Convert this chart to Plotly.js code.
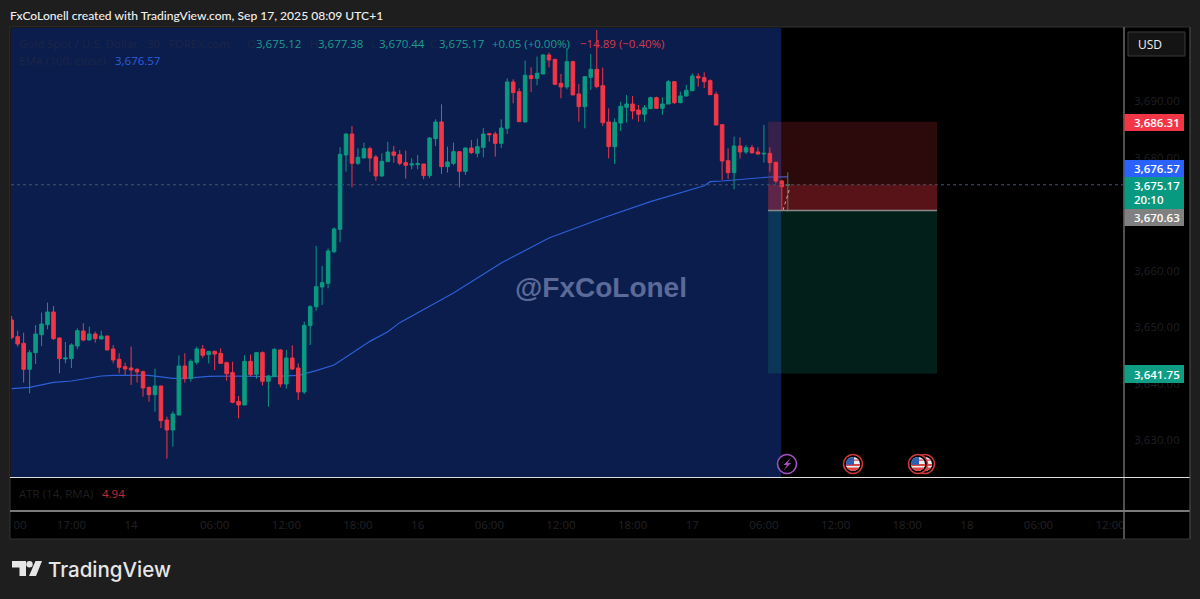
<!DOCTYPE html>
<html><head><meta charset="utf-8">
<script src="https://cdn.plot.ly/plotly-3.0.1.min.js"></script>
<style>html,body{margin:0;padding:0;background:#1e1e1e;overflow:hidden}</style>
</head><body><div id="chart" style="width:1200px;height:599px"></div>
<script>
const open = [3651.24,3648.29,3647.11,3642.51,3645.46,3648.64,3650.41,3652.66,3648.05,3644.34,3644.40,3646.64,3649.29,3647.70,3648.76,3647.88,3648.41,3646.11,3644.28,3642.98,3642.74,3642.51,3642.09,3639.32,3638.02,3639.56,3633.54,3631.77,3634.42,3643.10,3640.86,3643.75,3646.11,3645.10,3645.69,3645.34,3643.69,3641.92,3636.84,3636.19,3643.92,3641.62,3645.46,3640.38,3641.21,3645.93,3639.91,3644.51,3642.74,3638.50,3650.24,3653.60,3657.08,3657.73,3663.33,3667.29,3680.44,3684.16,3678.97,3679.91,3681.57,3680.09,3676.73,3679.26,3680.98,3680.50,3679.09,3678.67,3678.73,3678.85,3676.79,3683.34,3686.29,3678.38,3678.97,3681.03,3677.55,3681.68,3680.74,3681.80,3684.22,3684.16,3682.51,3685.16,3693.37,3691.65,3686.29,3694.49,3694.01,3694.78,3698.14,3697.38,3693.13,3692.48,3696.96,3691.24,3689.00,3694.19,3695.61,3692.72,3686.29,3681.92,3686.11,3688.88,3689.47,3688.41,3687.64,3688.65,3690.59,3688.70,3689.47,3693.42,3689.71,3690.89,3691.83,3694.37,3694.13,3693.60,3691.18,3685.81,3679.44,3677.32,3682.04,3680.98,3681.74,3680.98,3680.62,3680.74,3679.15,3675.84,3675.12];
const high = [3651.95,3649.35,3649.00,3645.93,3650.35,3652.54,3654.31,3653.72,3648.17,3647.35,3647.11,3649.76,3650.65,3650.06,3649.17,3649.35,3648.41,3646.81,3645.34,3643.69,3646.52,3642.68,3642.27,3639.44,3642.63,3639.56,3634.13,3635.07,3644.99,3645.34,3644.28,3646.52,3646.81,3645.75,3645.81,3646.22,3643.86,3643.86,3637.79,3644.99,3645.10,3645.58,3645.69,3641.50,3646.22,3646.05,3645.93,3646.76,3643.57,3650.94,3653.89,3664.34,3660.80,3663.92,3667.64,3681.80,3684.28,3685.58,3681.62,3682.63,3681.92,3680.44,3680.74,3682.80,3682.04,3681.33,3681.21,3679.85,3680.44,3678.85,3683.57,3686.76,3689.41,3681.92,3682.63,3681.03,3681.80,3683.10,3683.34,3685.22,3684.28,3684.57,3686.76,3694.01,3693.84,3692.24,3697.14,3695.96,3697.85,3698.32,3698.56,3697.38,3694.78,3699.32,3697.14,3693.01,3694.43,3698.32,3702.57,3695.90,3688.70,3686.93,3689.88,3691.06,3690.89,3689.29,3689.29,3690.77,3690.77,3690.65,3693.72,3693.54,3691.65,3692.83,3694.90,3694.90,3695.08,3693.84,3691.65,3685.87,3681.62,3683.69,3683.57,3682.21,3682.21,3681.80,3685.75,3681.80,3679.26,3676.02,3677.38];
const low = [3647.82,3646.52,3640.15,3638.26,3643.45,3646.64,3649.59,3647.70,3641.80,3643.57,3642.74,3646.05,3647.46,3647.64,3647.23,3647.82,3645.93,3643.57,3641.80,3641.50,3639.73,3640.15,3637.67,3636.78,3635.01,3632.12,3626.70,3628.82,3634.42,3640.15,3640.32,3643.33,3644.51,3643.57,3642.39,3643.45,3640.50,3636.49,3633.83,3636.19,3641.21,3640.86,3639.68,3635.90,3641.21,3639.32,3639.09,3642.39,3637.08,3638.14,3646.81,3652.89,3653.89,3656.84,3663.04,3664.99,3677.49,3674.72,3678.67,3679.91,3677.49,3675.90,3676.61,3679.26,3679.09,3678.62,3676.26,3677.91,3677.91,3676.14,3676.37,3682.04,3677.08,3677.32,3678.62,3674.72,3676.90,3680.62,3680.03,3680.03,3682.80,3680.15,3681.68,3684.16,3689.59,3686.34,3686.17,3691.60,3692.78,3694.78,3695.96,3692.84,3690.47,3692.07,3691.06,3686.34,3685.16,3691.95,3692.24,3685.58,3679.85,3678.85,3684.69,3686.17,3686.76,3686.34,3686.34,3688.53,3688.70,3687.58,3689.47,3689.47,3689.59,3690.77,3691.71,3692.54,3692.30,3691.06,3685.75,3676.02,3676.20,3674.37,3679.85,3680.62,3680.62,3680.50,3679.09,3677.49,3675.43,3670.71,3670.44];
const close = [3648.17,3646.99,3642.51,3645.46,3648.76,3650.53,3652.66,3647.94,3644.40,3644.51,3646.81,3649.35,3647.70,3648.76,3647.94,3648.41,3645.93,3644.16,3642.86,3642.57,3642.39,3642.04,3639.20,3638.02,3639.56,3633.42,3631.77,3634.60,3643.10,3640.86,3643.92,3646.11,3644.99,3645.69,3645.22,3643.57,3641.74,3636.67,3636.19,3643.92,3641.56,3645.46,3640.38,3641.33,3646.05,3639.91,3644.51,3642.57,3638.50,3650.30,3653.60,3657.14,3657.85,3663.45,3667.35,3680.56,3684.16,3678.97,3680.03,3681.57,3679.91,3676.73,3679.32,3680.98,3680.39,3678.97,3678.62,3678.85,3678.91,3676.79,3683.45,3686.29,3678.38,3679.21,3681.03,3677.55,3681.68,3680.86,3681.92,3684.16,3684.04,3682.51,3685.22,3693.37,3691.48,3686.34,3694.55,3693.96,3694.90,3698.14,3697.26,3692.95,3692.48,3696.96,3691.06,3689.00,3694.31,3695.61,3692.54,3686.17,3681.92,3686.23,3689.06,3689.47,3688.23,3687.64,3688.82,3690.59,3688.70,3689.47,3693.42,3689.71,3690.89,3691.89,3694.43,3694.07,3693.42,3691.12,3685.75,3679.38,3677.32,3682.04,3680.98,3681.74,3680.86,3680.62,3680.74,3679.09,3675.84,3674.84,3675.17];

const emaBars = [0,3,7,10,15,17,23,25,27,29,33,37,43,48,51,54,57,60,63,65,74,82,90,99,107,116,117,119,127,130];
const emaValues = [3639.09,3639.32,3640.21,3640.44,3641.33,3641.45,3641.45,3641.21,3640.91,3640.91,3641.27,3641.33,3641.21,3641.45,3642.27,3643.27,3645.34,3647.46,3649.17,3650.77,3656.00,3661.33,3665.75,3669.29,3672.20,3675.00,3675.72,3675.84,3676.55,3676.57];

const priceTicks = [3630,3640,3650,3660,3670,3680,3690];
const timeTickBars = [1.4,10,20,34,46,58,68,80,92,104,114,126,138,150,160,172,184];
const timeTickLabels = ["00","17:00","14","06:00","12:00","18:00","16","06:00","12:00","18:00","17","06:00","12:00","18:00","18","06:00","12:00"];

const stopPrice = 3686.31, entryPrice = 3670.63, targetPrice = 3641.75, lastPrice = 3675.17, emaLast = 3676.57;
const toolBars = [126.7,155.0];
const sessionEndBar = 128.9;
const entryArrowBars = [129.2,130.4];
const entryArrowPrices = [3670.7,3674.8];

const bars = open.map((_, i) => i);

// page-pixel helpers for the frame and decorations
const L = 11, R = 1123, T = 28, B = 538;
const fx = p => (p - L) / (R - L);
const fy = p => (B - p) / (B - T);
const shapes = [];
const rectPx = (x0, y0, x1, y1, fill, layer, line) => shapes.push({type:'rect',xref:'paper',yref:'paper',x0:fx(x0),x1:fx(x1),y0:fy(y0),y1:fy(y1),fillcolor:fill,layer:layer||'above',line:line||{width:0}});
const linePx = (x0, y0, x1, y1, color, w) => shapes.push({type:'line',xref:'paper',yref:'paper',x0:fx(x0),x1:fx(x1),y0:fy(y0),y1:fy(y1),layer:'above',line:{color:color,width:w||1}});
const polyPx = (pts, fill) => shapes.push({type:'path',xref:'paper',yref:'paper',layer:'above',fillcolor:fill,line:{width:0},path:'M'+pts.map(p=>fx(p[0])+','+fy(p[1])).join('L')+'Z'});
const circlePx = (cx, cy, r, fill, stroke, w) => shapes.push({type:'circle',xref:'paper',yref:'paper',layer:'above',x0:fx(cx-r),x1:fx(cx+r),y0:fy(cy-r),y1:fy(cy+r),fillcolor:fill,line:{color:stroke,width:w}});

// frame
rectPx(10,27,1190,539,'#000000','below',{color:'#333333',width:1});

// session background, risk tool
shapes.push({type:'rect',xref:'x',yref:'y domain',x0:-1,x1:sessionEndBar,y0:0,y1:1,fillcolor:'#0b1d4d',line:{width:0},layer:'below'});
shapes.push({type:'rect',xref:'x',yref:'y',x0:toolBars[0],x1:toolBars[1],y0:entryPrice,y1:stopPrice,fillcolor:'rgba(242,54,69,0.18)',line:{width:0}});
shapes.push({type:'rect',xref:'x',yref:'y',x0:toolBars[0],x1:toolBars[1],y0:entryPrice,y1:lastPrice,fillcolor:'rgba(242,54,69,0.22)',line:{width:0}});
shapes.push({type:'rect',xref:'x',yref:'y',x0:toolBars[0],x1:toolBars[1],y0:targetPrice,y1:entryPrice,fillcolor:'rgba(8,153,129,0.2)',line:{width:0}});
shapes.push({type:'line',xref:'x',yref:'y',x0:toolBars[0],x1:toolBars[1],y0:entryPrice,y1:entryPrice,line:{color:'#8a8a8a',width:1.5}});
shapes.push({type:'line',xref:'paper',yref:'y',x0:0,x1:1,y0:lastPrice,y1:lastPrice,line:{color:'#46546c',width:1,dash:'dot'}});

// pane separators
linePx(1124,27,1124,539,'#6a6a6a',1.5);
linePx(10,477.5,1190,477.5,'#dddddd',1);
linePx(10,511,1190,511,'#7a7a7a',2);
linePx(1190,27,1190,539,'#444444',1);

// price badges
const badges = [[114,131,'#f23645'],[160,177,'#2962ff'],[177,209,'#089981'],[209,226,'#808080'],[365,383,'#0f9d83']];
badges.forEach(b => rectPx(1124.5,b[0],1184,b[1],b[2]));

// USD button
rectPx(1128,32,1185,56,'#141414','above',{color:'#3a3a3a',width:1});

// event markers
function flag(cx, cy){
  circlePx(cx,cy,9.5,'#000000','#d23a3a',1.6);
  const r=7, circ=(a0,a1)=>{const p=[];for(let a=a0;a<=a1+.01;a+=Math.PI/12)p.push([cx+r*Math.cos(a),cy-r*Math.sin(a)]);return p;};
  circlePx(cx,cy,r,'#eeeeee','#eeeeee',0);
  polyPx(circ(Math.PI,2*Math.PI),'#dd4444');
  polyPx([[cx-6.8,cy+2],[cx+6.8,cy+2],[cx+5.8,cy+3.4],[cx-5.8,cy+3.4]],'#eeeeee');
  polyPx([[cx,cy-3.2],[cx+6.2,cy-3.2],[cx+5,cy-4.6],[cx,cy-4.6]],'#dd4444');
  polyPx([[cx+1,cy+0.8],[cx+1,cy-r]].concat(circ(Math.PI/2,Math.PI)).concat([[cx-r,cy+0.8]]),'#2f5fb5');
}
circlePx(787,464,9.5,'#000000','#a24fc4',1.6);
polyPx([[791,457.5],[783.5,465],[787,465],[783.5,470.5],[791,463],[787.5,463]],'#a24fc4');
flag(853,464);
flag(925,464);
flag(918,464);

// TradingView logo
polyPx([[12,561],[26,561],[26,576],[19.5,576],[19.5,567.5],[12,567.5]],'#e6e6e6');
circlePx(29.5,564.3,3.2,'#e6e6e6','#e6e6e6',0);
polyPx([[35.5,561],[42,561],[36,576],[29,576]],'#e6e6e6');

const BASE = 'Open Sans, sans-serif';
const note = (px, py, text, color, size, extra) => Object.assign({
  xref:'paper',yref:'paper',x:fx(px),y:fy(py),xanchor:'left',yanchor:'middle',showarrow:false,
  text:text,borderpad:0,font:{family:BASE,size:size||11.5,color:color}},extra||{});
const dim = '#1b2545', teal = '#1f9c8c', red = '#d73a4a';
const badgeFont = {font:{family:BASE,size:11.5,color:'#ffffff',weight:600}};
const annotations = [
  note(9,15,'FxCoLonell created with TradingView.com, Sep 17, 2025 08:09 UTC+1','#f0f0f0',12.1,{font:{family:'Lato, sans-serif',size:12.1,color:'#f0f0f0',weight:500}}),
  note(18,43,'Gold Spot / U.S. Dollar · 30 · FOREX.com',dim),
  note(246,43,'O',dim), note(255,43,'3,675.12',teal),
  note(309,43,'H',dim), note(317,43,'3,677.38',teal),
  note(370,43,'L',dim), note(378,43,'3,670.44',teal),
  note(429,43,'C',dim), note(438,43,'3,675.17',teal),
  note(491,43,'+0.05 (+0.00%)',teal),
  note(579,43,'−14.89 (−0.40%)',red),
  note(18,60,'EMA (100, close)',dim),
  note(114,60,'3,676.57','#2d5fd8'),
  note(18,493,'ATR (14, RMA)','#1f1f1f'),
  note(101,493,'4.94','#c02a3a'),
  note(514,287,'@FxCoLonel','#5b6a98',28,{font:{family:'Liberation Sans, Arial, sans-serif',size:28,color:'#5b6a98',weight:700}}),
  note(47,569,'TradingView','#e6e6e6',20.5,{font:{family:'Inter, sans-serif',size:20.5,color:'#e6e6e6',weight:500}}),
  note(1137,44,'USD','#f0f0f0',12),
  note(1133,122.5,'3,686.31','#ffffff',12,badgeFont),
  note(1133,168.5,'3,676.57','#ffffff',12,badgeFont),
  note(1133,185,'3,675.17','#ffffff',12,badgeFont),
  note(1133,199.5,'20:10','#ffffff',12,badgeFont),
  note(1133,217,'3,670.63','#ffffff',12,badgeFont),
  note(1133,374,'3,641.75','#ffffff',12,badgeFont)
];

const traces = [
  {type:'scatter',mode:'lines',x:emaBars,y:emaValues,line:{color:'#2d5fd8',width:1.2},hoverinfo:'skip',zorder:0},
  {type:'candlestick',x:bars,open:open,high:high,low:low,close:close,whiskerwidth:0,
   increasing:{line:{color:'#0a9a82',width:1},fillcolor:'#0a9a82'},
   decreasing:{line:{color:'#f23645',width:1},fillcolor:'#f23645'},hoverinfo:'skip',zorder:1},
  {type:'scatter',mode:'lines',x:entryArrowBars,y:entryArrowPrices,line:{color:'#d8d8d8',width:1,dash:'dot'},hoverinfo:'skip',zorder:2}
];

const layout = {
  width:1200,height:599,autosize:false,showlegend:false,
  paper_bgcolor:'#1e1e1e',plot_bgcolor:'#000000',
  margin:{l:L,r:1200-R,t:T,b:599-B,pad:0},
  font:{family:BASE},boxgap:0.15,
  xaxis:{type:'linear',domain:[0,1],range:[-0.117,186.15],anchor:'free',position:(B-511)/(B-T),side:'bottom',
    tickmode:'array',tickvals:timeTickBars,ticktext:timeTickLabels,ticks:'outside',ticklen:3,tickcolor:'rgba(0,0,0,0)',
    tickfont:{family:BASE,size:11.5,color:'#222226'},showgrid:false,zeroline:false,showline:false,tickangle:0,
    rangeslider:{visible:false},fixedrange:true},
  yaxis:{domain:[(B-477)/(B-T),1],range:[3623.45,3702.92],side:'right',anchor:'x',
    tickmode:'array',tickvals:priceTicks,tickformat:',.2f',ticks:'outside',ticklen:8,tickcolor:'rgba(0,0,0,0)',
    tickfont:{family:BASE,size:11.5,color:'#1f1f23'},showgrid:false,zeroline:false,showline:false,fixedrange:true},
  shapes:shapes,annotations:annotations
};
Plotly.newPlot('chart',traces,layout,{displayModeBar:false,staticPlot:true});
</script></body></html>
